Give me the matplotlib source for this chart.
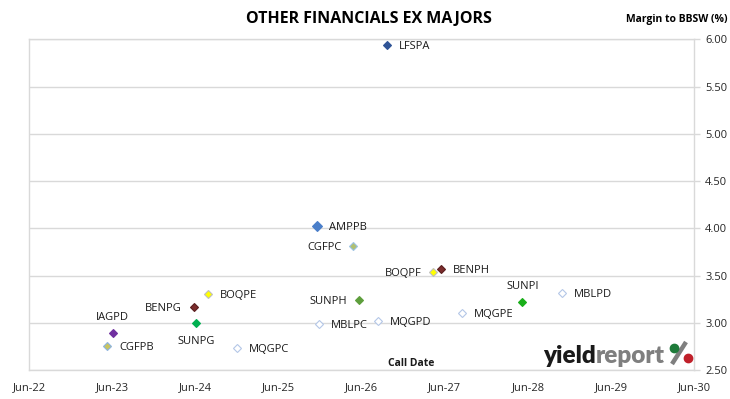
import datetime as dt
import matplotlib.pyplot as plt
import matplotlib.dates as mdates
from matplotlib.lines import Line2D

plt.rcParams['font.family'] = ['Open Sans', 'DejaVu Sans']

# bond codes, call dates and margins to BBSW (%)
codes = ["LFSPA", "AMPPB", "CGFPC", "BENPH", "BOQPF", "SUNPI", "MBLPD", "MQGPE",
         "MQGPD", "MBLPC", "SUNPH", "BOQPE", "BENPG", "SUNPG", "IAGPD", "CGFPB", "MQGPC"]
call_dates = ["2026-09-20", "2025-11-16", "2026-04-25", "2027-05-15", "2027-04-12",
              "2028-05-07", "2028-10-28", "2027-08-18", "2026-08-13", "2025-11-26",
              "2026-05-20", "2024-07-27", "2024-05-24", "2024-06-01", "2023-06-01",
              "2023-05-09", "2024-12-01"]
margins = [5.94, 4.02, 3.81, 3.57, 3.54, 3.22, 3.31, 3.10,
           3.02, 2.99, 3.24, 3.30, 3.17, 3.00, 2.89, 2.75, 2.73]

yticks = [2.5, 3.0, 3.5, 4.0, 4.5, 5.0, 5.5, 6.0]
xtick_years = list(range(2022, 2031))

# marker styles: face, edge, size
hollow = ("white", "#B4C7E7", 4.2)
styles = {
    "LFSPA": ("#2F5496", "#2F5496", 4.0),
    "AMPPB": ("#4A7EC9", "#4A7EC9", 5.2),
    "CGFPC": ("#B0C070", "#9DC3E6", 4.0),
    "CGFPB": ("#C8C460", "#8DB4E2", 4.0),
    "BENPH": ("#7B2C2C", "#5A1E1E", 4.0),
    "BENPG": ("#7B2C2C", "#5A1E1E", 4.0),
    "BOQPF": ("#FFFF00", "#BFBFBF", 4.0),
    "BOQPE": ("#FFFF00", "#BFBFBF", 4.0),
    "SUNPI": ("#1AAF1A", "#1AAF1A", 4.0),
    "SUNPH": ("#5E9E3C", "#5E9E3C", 4.0),
    "SUNPG": ("#00B050", "#00B050", 4.0),
    "IAGPD": ("#7030A0", "#7030A0", 4.0),
    "MQGPE": hollow, "MQGPD": hollow, "MQGPC": hollow,
    "MBLPD": hollow, "MBLPC": hollow,
}

# label placement (offset in points, alignment)
R = ((8.5, -1), "left", "center")
L = ((-8.5, -1), "right", "center")
placement = {
    "CGFPC": L, "BOQPF": L, "SUNPH": L, "BENPG": L,
    "SUNPI": ((0, 11.5), "center", "center"),
    "IAGPD": ((0, 11.5), "center", "center"),
    "SUNPG": ((0, -13.5), "center", "center"),
}

fig = plt.figure(figsize=(7.3, 3.99), dpi=100)
ax = fig.add_axes([0.0404, 0.0727, 0.9103, 0.8286])

for code, d, m in zip(codes, call_dates, margins):
    face, edge, ms = styles[code]
    x = dt.datetime.strptime(d, "%Y-%m-%d")
    ax.plot([x], [m], linestyle="none", marker="D", ms=ms,
            markerfacecolor=face, markeredgecolor=edge, markeredgewidth=0.8, zorder=3)
    off, ha, va = placement.get(code, R)
    ax.annotate(code, (x, m), xytext=off, textcoords="offset points",
                ha=ha, va=va, fontsize=8, color="#1a1a1a", zorder=4)

ax.set_xlim(dt.datetime(2022, 6, 1), dt.datetime(2030, 6, 1))
ax.set_ylim(2.5, 6.0)
ax.set_xticks([dt.datetime(y, 6, 1) for y in xtick_years])
ax.xaxis.set_major_formatter(mdates.DateFormatter("%b-%y"))
ax.set_yticks(yticks)
ax.set_yticklabels(["%.2f" % v for v in yticks])
ax.yaxis.tick_right()

ax.grid(axis="y", color="#D9D9D9", linewidth=1)
ax.set_axisbelow(True)
for s in ax.spines.values():
    s.set_color("#D9D9D9")
    s.set_linewidth(1)
ax.tick_params(axis="x", length=0, pad=9, labelsize=8, labelcolor="#262626")
ax.tick_params(axis="y", length=4, width=1, color="#D9D9D9", pad=4,
               labelsize=8, labelcolor="#262626")

fig.text(0.506, 0.952, "OTHER FINANCIALS EX MAJORS", ha="center", va="center",
         fontsize=11.5, fontweight="bold", color="black")
fig.text(0.996, 0.952, "Margin to BBSW (%)", ha="right", va="center",
         fontsize=7.5, fontweight="bold", color="black")
ax.text(0.575, 0.021, "Call Date", transform=ax.transAxes, ha="center", va="center",
        fontsize=7.5, fontweight="bold", color="#1a1a1a")

# yieldreport logo
t1 = fig.text(543 / 730, 1 - 363 / 399, "yield", ha="left", va="baseline",
              fontsize=17.5, fontweight="heavy", family=["Lato", "DejaVu Sans"], color="#1a1a1a")
ax.annotate("report", (1, 0), xycoords=t1, ha="left", va="bottom",
            fontsize=17.5, fontweight="heavy", family=["Lato", "DejaVu Sans"], color="#7F7F7F")
px = lambda x, y: (x / 730, 1 - y / 399)
(x0, y0), (x1, y1) = px(672, 364), px(686, 342)
fig.add_artist(Line2D([x0, x1], [y0, y1], transform=fig.transFigure,
                      color="#7F7F7F", linewidth=3.2, solid_capstyle="butt"))
gx, gy = px(674, 348)
fig.add_artist(Line2D([gx], [gy], transform=fig.transFigure, marker="o", ms=6,
                      linestyle="none", color="#1E7B3A"))
rx, ry = px(688, 358)
fig.add_artist(Line2D([rx], [ry], transform=fig.transFigure, marker="o", ms=6,
                      linestyle="none", color="#C0202A"))

plt.savefig("out.png", dpi=100)
